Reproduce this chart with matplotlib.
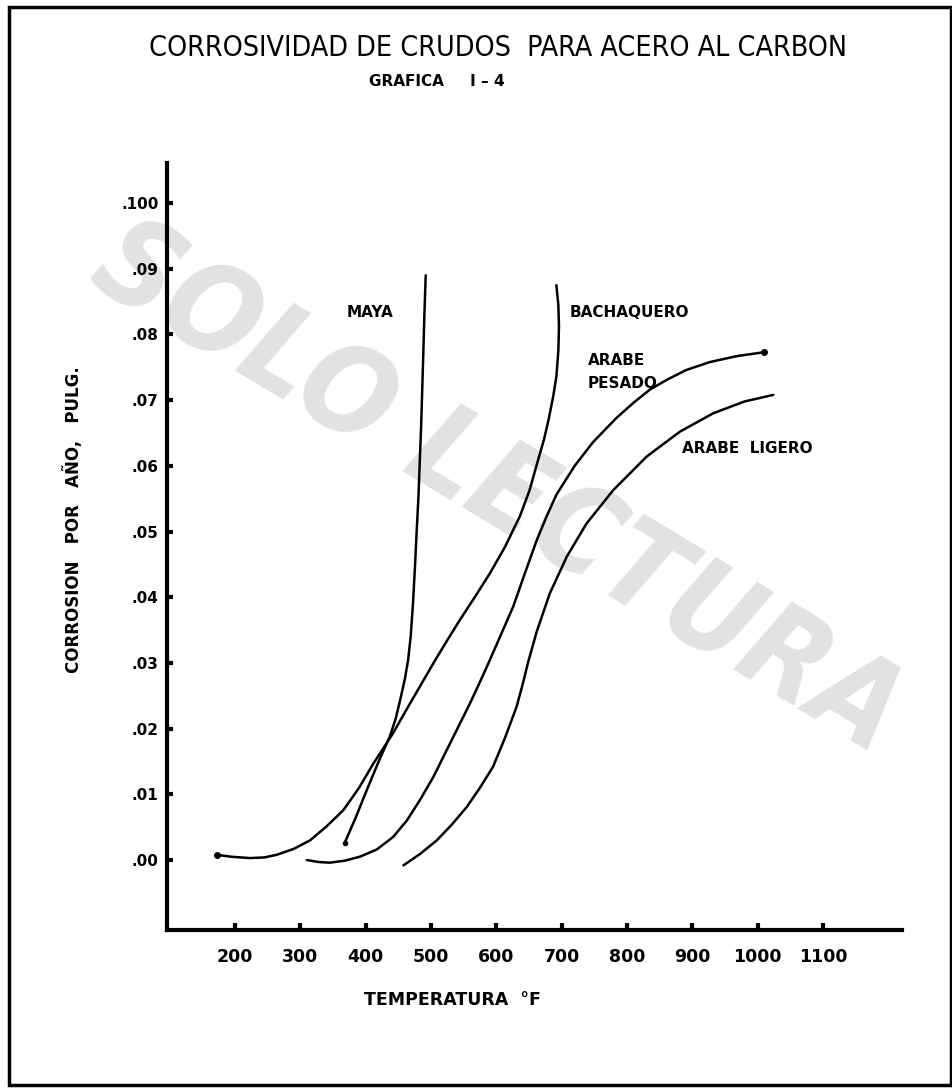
import matplotlib
matplotlib.use("Agg")
import matplotlib.pyplot as plt
from matplotlib.patches import Rectangle

# readings: temperature (F) and corrosion (in/yr)
maya_t = [368, 385, 402, 420, 437, 446, 453, 460, 465, 469, 472.5, 475.5, 478, 481,
          483, 485, 486.5, 488, 490, 492]
maya_c = [0.0026, 0.0065, 0.0107, 0.015, 0.0188, 0.0215, 0.0244, 0.0275, 0.0304, 0.034,
          0.039, 0.0445, 0.0497, 0.0555, 0.0609, 0.066, 0.071, 0.0761, 0.083, 0.089]

bach_t = [172, 195, 223, 245, 264, 290, 315, 340, 366, 390, 412, 442, 462, 483, 504, 524,
          544, 567, 590, 613, 636, 651, 664, 673, 680, 687, 692, 695, 696, 695, 692]
bach_c = [0.0008, 0.0005, 0.0003, 0.0004, 0.0008, 0.0017, 0.003, 0.0051, 0.0076, 0.011,
          0.0147, 0.0193, 0.0228, 0.0264, 0.030, 0.0333, 0.0365, 0.040, 0.0436, 0.0476,
          0.0523, 0.0563, 0.0609, 0.064, 0.067, 0.0705, 0.0736, 0.0775, 0.0812, 0.0845, 0.0875]

pesado_t = [310, 328, 345, 368, 391, 417, 442, 463, 483, 504, 524, 542, 560, 575, 590, 608,
            626, 644, 662, 677, 692, 720, 748, 784, 810, 835, 861, 891, 927, 968, 1010]
pesado_c = [0.0, -0.0003, -0.0004, -0.0001, 0.0005, 0.0016, 0.0035, 0.006, 0.0091, 0.0127,
            0.0167, 0.0203, 0.0239, 0.0271, 0.0304, 0.0345, 0.0386, 0.0437, 0.0487, 0.0523,
            0.0556, 0.060, 0.0636, 0.0673, 0.0696, 0.0716, 0.0731, 0.0746, 0.0758, 0.0767,
            0.0773]

ligero_t = [458, 483, 509, 532, 555, 575, 595, 613, 631, 640, 649, 662, 682, 708, 738, 779,
            830, 881, 932, 980, 1024]
ligero_c = [-0.0008, 0.0009, 0.003, 0.0054, 0.0081, 0.011, 0.0142, 0.0185, 0.0233, 0.0266,
            0.0302, 0.0348, 0.0406, 0.0462, 0.0512, 0.0563, 0.0614, 0.0652, 0.068, 0.0698,
            0.0708]

x_ticks = [200, 300, 400, 500, 600, 700, 800, 900, 1000, 1100]
y_ticks = [0.00, 0.01, 0.02, 0.03, 0.04, 0.05, 0.06, 0.07, 0.08, 0.09, 0.10]
y_labels = ['.00', '.01', '.02', '.03', '.04', '.05', '.06', '.07', '.08', '.09', '.100']

fig = plt.figure(figsize=(9.53, 10.88), dpi=100)

# watermark behind everything
fig.text(0.522, 0.55, 'SOLO LECTURA', fontsize=87, fontweight='bold', style='italic',
         fontstretch='condensed', color='#e2e2e2', rotation=-31,
         ha='center', va='center', zorder=-1)

# scanned page frame
fig.patches.append(Rectangle((0.009, 0.003), 0.989, 0.991, transform=fig.transFigure,
                             fill=False, lw=2.5, ec='black'))

fig.text(0.523, 0.956, 'CORROSIVIDAD DE CRUDOS  PARA ACERO AL CARBON',
         fontsize=20.5, ha='center', va='center', fontstretch='condensed')
fig.text(0.458, 0.925, 'GRAFICA     I – 4', fontsize=11, fontweight='bold',
         ha='center', va='center')

ax = fig.add_axes([0.1752, 0.1452, 0.7713, 0.7050])
ax.patch.set_alpha(0)
lw = 1.8
for t, c in [(maya_t, maya_c), (bach_t, bach_c), (pesado_t, pesado_c), (ligero_t, ligero_c)]:
    ax.plot(t, c, color='black', lw=lw, solid_capstyle='round', solid_joinstyle='round')
ax.plot(bach_t[0], bach_c[0], 'o', color='black', ms=4)
ax.plot(pesado_t[-1], pesado_c[-1], 'o', color='black', ms=4)
ax.plot(maya_t[0], maya_c[0], 'o', color='black', ms=3)

ax.set_xlim(96, 1221)
ax.set_ylim(-0.01065, 0.1061)
ax.spines['top'].set_visible(False)
ax.spines['right'].set_visible(False)
ax.spines['left'].set_linewidth(3)
ax.spines['bottom'].set_linewidth(3)
ax.set_xticks(x_ticks)
ax.set_yticks(y_ticks)
ax.set_yticklabels(y_labels)
ax.tick_params(axis='x', direction='in', length=5, width=3, pad=13, labelsize=12.5)
ax.tick_params(axis='y', direction='in', length=4, width=3, pad=6, labelsize=11)
for lab in ax.get_xticklabels() + ax.get_yticklabels():
    lab.set_fontweight('bold')

txt = dict(fontsize=11, fontweight='bold', ha='left', va='center')
ax.text(371, 0.0833, 'MAYA', **txt)
ax.text(713, 0.0833, 'BACHAQUERO', **txt)
ax.text(740, 0.0761, 'ARABE', **txt)
ax.text(740, 0.0726, 'PESADO', **txt)
ax.text(884, 0.0627, 'ARABE  LIGERO', **txt)

fig.text(0.475, 0.081, 'TEMPERATURA  °F', fontsize=12.5, fontweight='bold',
         ha='center', va='center')
fig.text(0.077, 0.522, 'CORROSION   POR   AÑO,   PULG.', fontsize=12, fontweight='bold',
         rotation=90, ha='center', va='center')

fig.savefig('out.png', dpi=100)
